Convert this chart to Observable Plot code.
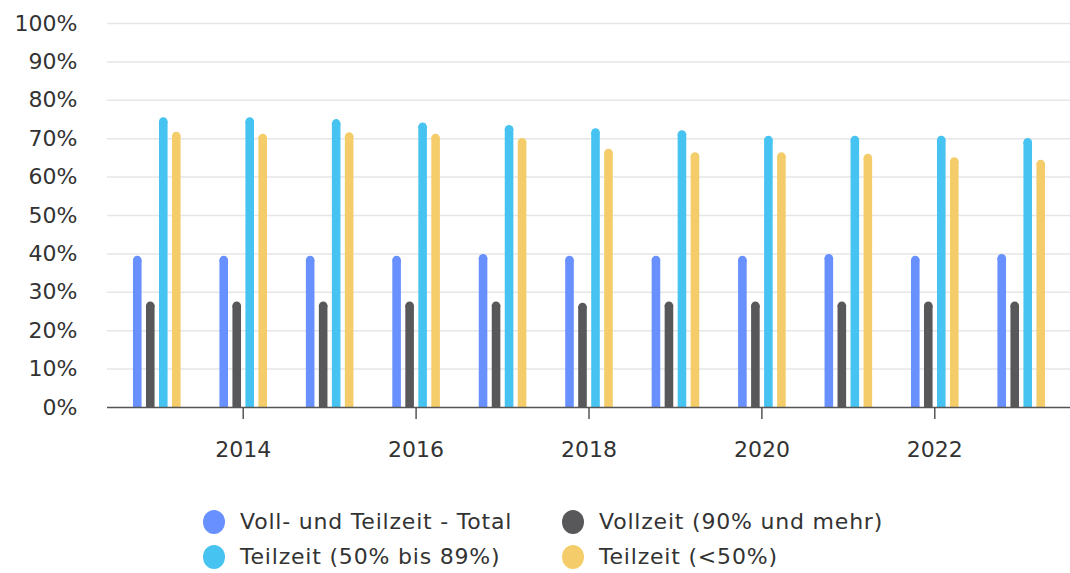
<!DOCTYPE html>
<html><head><meta charset="utf-8">
<script src="https://cdn.jsdelivr.net/npm/d3@7"></script>
<script src="https://cdn.jsdelivr.net/npm/@observablehq/plot@0.6"></script>
<style>
body{margin:0;background:#fff;font-family:"DejaVu Sans",sans-serif;color:#333;}
#legend{display:grid;grid-template-columns:359px auto;row-gap:10px;margin-left:203px;margin-top:34px;font-size:22px;letter-spacing:0.8px;}
#legend .it{display:flex;align-items:center;height:25px;}
#legend .sw{width:22px;height:24px;border-radius:50%;margin-right:15px;flex:none;}
</style></head><body>
<div id="chart"></div>
<div id="legend"></div>
<script>
const years = [2013,2014,2015,2016,2017,2018,2019,2020,2021,2022,2023];
const seriesNames = ["Voll- und Teilzeit - Total","Vollzeit (90% und mehr)","Teilzeit (50% bis 89%)","Teilzeit (<50%)"];
const total    = [39.5,39.5,39.5,39.5,40.0,39.5,39.5,39.5,40.0,39.5,40.0];
const vollzeit = [27.6,27.6,27.6,27.6,27.6,27.3,27.6,27.6,27.6,27.6,27.6];
const teil5089 = [75.6,75.6,75.1,74.2,73.6,72.7,72.2,70.8,70.8,70.8,70.2];
const teil50   = [71.8,71.3,71.7,71.3,70.2,67.4,66.5,66.5,66.1,65.2,64.5];
const colors = ["#6890ff","#58585a","#46c3f0","#f4cd6a"];
const yTicks = [0,10,20,30,40,50,60,70,80,90,100];
const xTicks = [2014,2016,2018,2020,2022];

const allValues = [total, vollzeit, teil5089, teil50];
const offsets = [-19.5,-6.5,6.5,19.5];
const r = 4.3;

const marks = [
  Plot.ruleY(yTicks.filter(d=>d>0), {stroke:"#e6e6e6", strokeWidth:1.5})
];
allValues.forEach((vals, i) => {
  const data = years.map((y, j) => ({year: y, value: vals[j]}));
  marks.push(Plot.ruleX(data, {x:"year", y1:"value", y2:0, stroke:colors[i], strokeWidth:2*r, dx:offsets[i], insetTop:r}));
  marks.push(Plot.dot(data, {x:"year", y:"value", r:r, fill:colors[i], stroke:"none", dx:offsets[i], dy:r}));
});
marks.push(Plot.ruleY([0], {stroke:"#555", strokeWidth:1.5}));
marks.push(Plot.axisY({ticks:yTicks, tickSize:0, tickPadding:30, tickFormat:d=>d+"%", fontSize:22, fill:"#333", label:null, style:{letterSpacing:"0.8px"}}));
marks.push(Plot.axisX({ticks:xTicks, tickSize:12, tickPadding:22, tickFormat:d=>String(d), fontSize:22, fill:"#333", stroke:"#555", strokeWidth:1.5, label:null}));

const chart = Plot.plot({
  width:1070, height:475,
  marginLeft:107, marginRight:0, marginTop:23, marginBottom:68,
  style:{fontFamily:"DejaVu Sans", fontSize:"22px", color:"#333", background:"#fff"},
  x:{type:"linear", domain:[2012.43,2023.57], label:null},
  y:{domain:[0,100], label:null},
  marks
});
document.getElementById("chart").append(chart);

const leg = document.getElementById("legend");
[0,1,2,3].forEach(i => {
  const it = document.createElement("div"); it.className="it";
  const sw = document.createElement("span"); sw.className="sw"; sw.style.background=colors[i];
  const t = document.createElement("span"); t.textContent = seriesNames[i];
  it.append(sw, t); leg.append(it);
});
</script>
</body></html>
